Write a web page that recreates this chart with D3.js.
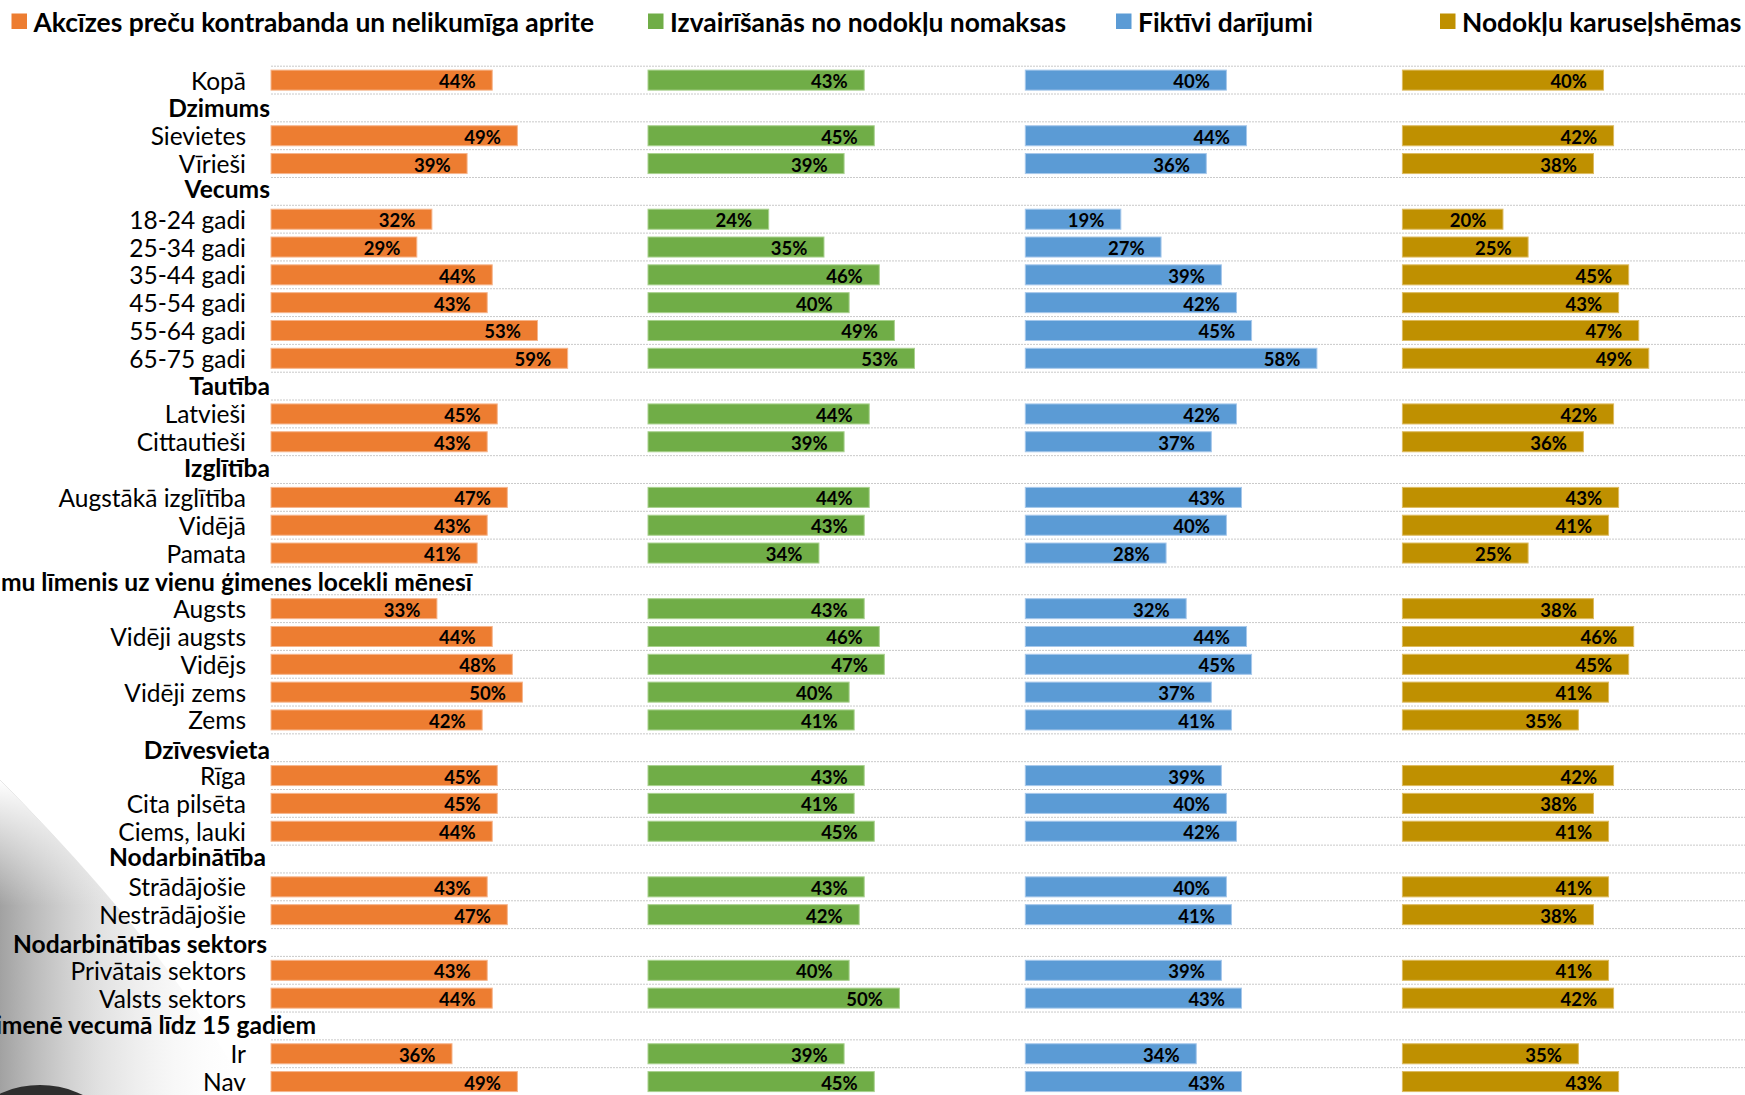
<!DOCTYPE html>
<html>
<head>
<meta charset="utf-8">
<script src="https://cdnjs.cloudflare.com/ajax/libs/d3/7.8.5/d3.min.js"></script>
<style>
  html, body { margin: 0; padding: 0; background: #ffffff; }
  svg { display: block; }
  text { font-family: Lato, "Open Sans", sans-serif; }
</style>
</head>
<body>
<svg id="chart" width="1745" height="1095"></svg>
<script>
// ---------------- DATA ----------------
const seriesNames = [
  "Akcīzes preču kontrabanda un nelikumīga aprite",
  "Izvairīšanās no nodokļu nomaksas",
  "Fiktīvi darījumi",
  "Nodokļu karuseļshēmas"
];

const rowLabels = [
  "Kopā",
  "Dzimums", "Sievietes", "Vīrieši",
  "Vecums", "18-24 gadi", "25-34 gadi", "35-44 gadi", "45-54 gadi", "55-64 gadi", "65-75 gadi",
  "Tautība", "Latvieši", "Cittautieši",
  "Izglītība", "Augstākā izglītība", "Vidējā", "Pamata",
  "Ienākumu līmenis uz vienu ģimenes locekli mēnesī", "Augsts", "Vidēji augsts", "Vidējs", "Vidēji zems", "Zems",
  "Dzīvesvieta", "Rīga", "Cita pilsēta", "Ciems, lauki",
  "Nodarbinātība", "Strādājošie", "Nestrādājošie",
  "Nodarbinātības sektors", "Privātais sektors", "Valsts sektors",
  "Bērni ģimenē vecumā līdz 15 gadiem", "Ir", "Nav"
];

const headerRows = [
  "Dzimums", "Vecums", "Tautība", "Izglītība",
  "Ienākumu līmenis uz vienu ģimenes locekli mēnesī",
  "Dzīvesvieta", "Nodarbinātība", "Nodarbinātības sektors",
  "Bērni ģimenē vecumā līdz 15 gadiem"
];

// values in %, null for group header rows (same order as rowLabels)
const excise = [44, null, 49, 39, null, 32, 29, 44, 43, 53, 59, null, 45, 43, null, 47, 43, 41,
  null, 33, 44, 48, 50, 42, null, 45, 45, 44, null, 43, 47, null, 43, 44, null, 36, 49];
const evasion = [43, null, 45, 39, null, 24, 35, 46, 40, 49, 53, null, 44, 39, null, 44, 43, 34,
  null, 43, 46, 47, 40, 41, null, 43, 41, 45, null, 43, 42, null, 40, 50, null, 39, 45];
const fictitious = [40, null, 44, 36, null, 19, 27, 39, 42, 45, 58, null, 42, 37, null, 43, 40, 28,
  null, 32, 44, 45, 37, 41, null, 39, 40, 42, null, 40, 41, null, 39, 43, null, 34, 43];
const carousel = [40, null, 42, 38, null, 20, 25, 45, 43, 47, 49, null, 42, 36, null, 43, 41, 25,
  null, 38, 46, 45, 41, 35, null, 42, 38, 41, null, 41, 38, null, 41, 42, null, 35, 43];

const seriesValues = [excise, evasion, fictitious, carousel];
const axisMax = 75;

// ---------------- LAYOUT / STYLE ----------------
const W = 1745, H = 1095;
const colors = ["#ED7D31", "#70AD47", "#5B9BD5", "#BF9000"];
const strokeColors = ["#F6B58C", "#A9D18E", "#A7C8EB", "#DDBB60"];
const panelStarts = [271, 648, 1025.3, 1402.4];
const panelWidth = 377.1;
const legendX = [11.5, 648, 1116, 1440];

// header label tweaks: right edge and vertical nudge
const headerLayout = {
  "Dzimums": {x: 270, dy: 0},
  "Vecums": {x: 270, dy: -2.5},
  "Tautība": {x: 270, dy: -1},
  "Izglītība": {x: 270, dy: -2.5},
  "Ienākumu līmenis uz vienu ģimenes locekli mēnesī": {x: 472, dy: 1},
  "Dzīvesvieta": {x: 270, dy: 1.5},
  "Nodarbinātība": {x: 266, dy: -2.5},
  "Nodarbinātības sektors": {x: 267, dy: 1.5},
  "Bērni ģimenē vecumā līdz 15 gadiem": {x: 316, dy: -1.5}
};

const svg = d3.select("#chart");

// background decoration (bottom-left)
const defs = svg.append("defs");
const grad = defs.append("linearGradient").attr("id", "bgGrad")
  .attr("x1", "0").attr("y1", "0").attr("x2", "1").attr("y2", "0");
grad.append("stop").attr("offset", "0%").attr("stop-color", "#8a8a8a").attr("stop-opacity", 0.8);
grad.append("stop").attr("offset", "40%").attr("stop-color", "#bdbdbd").attr("stop-opacity", 0.45);
grad.append("stop").attr("offset", "100%").attr("stop-color", "#ffffff").attr("stop-opacity", 0);
const gradV = defs.append("linearGradient").attr("id", "bgGradV")
  .attr("x1", "0").attr("y1", "0").attr("x2", "0").attr("y2", "1");
gradV.append("stop").attr("offset", "0%").attr("stop-color", "#ffffff").attr("stop-opacity", 1);
gradV.append("stop").attr("offset", "40%").attr("stop-color", "#ffffff").attr("stop-opacity", 0);
gradV.append("stop").attr("offset", "100%").attr("stop-color", "#ffffff").attr("stop-opacity", 0);

const bgPath = "M0,780 C80,860 180,970 250,1095 L0,1095 Z";
svg.append("path").attr("d", bgPath).attr("fill", "url(#bgGrad)");
svg.append("path").attr("d", bgPath).attr("fill", "url(#bgGradV)");
svg.append("circle").attr("cx", 40).attr("cy", 1182).attr("r", 97).attr("fill", "#2e2e2e");

// scales
const y = d3.scaleBand()
  .domain(rowLabels)
  .range([66.2, 1095.5])
  .paddingInner(0.28)
  .paddingOuter(0.14);

const x = d3.scaleLinear().domain([0, axisMax]).range([0, panelWidth]);

// gridlines at row boundaries
const boundaries = rowLabels.map(r => y(r) - y.step() * y.paddingInner() / 2);
boundaries.push(y(rowLabels[rowLabels.length - 1]) + y.bandwidth() + y.step() * y.paddingInner() / 2);
svg.append("g").selectAll("line")
  .data(boundaries)
  .join("line")
  .attr("x1", panelStarts[0]).attr("x2", W)
  .attr("y1", d => d).attr("y2", d => d)
  .attr("stroke", "#c9c9c9")
  .attr("stroke-width", 1)
  .attr("stroke-dasharray", "2,1");

// category labels
const labelG = svg.append("g");
rowLabels.forEach(r => {
  const isHeader = headerRows.includes(r);
  const cy = y(r) + y.bandwidth() / 2;
  if (isHeader) {
    const hl = headerLayout[r];
    labelG.append("text")
      .attr("x", hl.x).attr("y", cy + hl.dy)
      .attr("text-anchor", "end")
      .attr("dominant-baseline", "central")
      .attr("font-size", 24.6)
      .attr("font-weight", 700)
      .attr("fill", "#000")
      .text(r);
  } else {
    labelG.append("text")
      .attr("x", 246).attr("y", cy)
      .attr("text-anchor", "end")
      .attr("dominant-baseline", "central")
      .attr("font-size", 24.5)
      .attr("fill", "#000")
      .text(r);
  }
});

// bars
seriesValues.forEach((vals, si) => {
  const rows = rowLabels.map((r, i) => ({row: r, v: vals[i]})).filter(d => d.v != null);
  const g = svg.append("g").attr("transform", `translate(${panelStarts[si]},0)`);
  g.selectAll("rect")
    .data(rows)
    .join("rect")
    .attr("x", 0)
    .attr("y", d => y(d.row))
    .attr("width", d => x(d.v))
    .attr("height", y.bandwidth())
    .attr("fill", colors[si])
    .attr("stroke", strokeColors[si])
    .attr("stroke-width", 1);
  g.selectAll("text")
    .data(rows)
    .join("text")
    .attr("x", d => x(d.v) - 16.5)
    .attr("y", d => y(d.row) + y.bandwidth() / 2 + 1)
    .attr("text-anchor", "end")
    .attr("dominant-baseline", "central")
    .attr("font-size", 18.5)
    .attr("font-weight", 700)
    .attr("fill", "#000")
    .text(d => d.v + "%");
});

// legend
const lg = svg.append("g");
seriesNames.forEach((name, i) => {
  lg.append("rect")
    .attr("x", legendX[i]).attr("y", 13.5)
    .attr("width", 15.5).attr("height", 15.5)
    .attr("fill", colors[i]);
  lg.append("text")
    .attr("x", legendX[i] + 22).attr("y", 21.5)
    .attr("dominant-baseline", "central")
    .attr("font-size", 26.4)
    .attr("font-weight", 700)
    .attr("fill", "#000")
    .text(name);
});
</script>
</body>
</html>
